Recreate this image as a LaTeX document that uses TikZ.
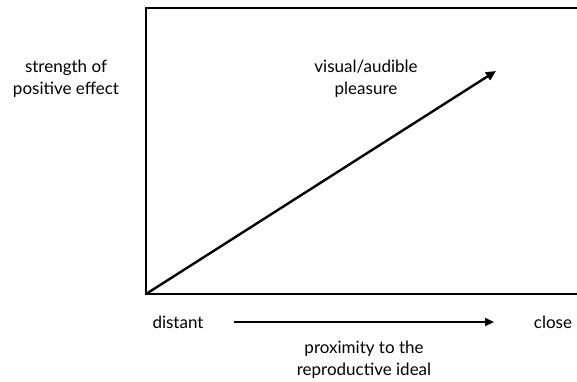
\documentclass[tikz,border=0pt]{standalone}
\usepackage{fontspec}
\setmainfont{Lato}
\usetikzlibrary{arrows.meta}
\begin{document}
\begin{tikzpicture}[x=1pt,y=-1pt,
  lbl/.style={align=center,font=\fontsize{17}{22}\selectfont,inner sep=0pt},
  arr/.style={line width=2.4pt,-{Triangle[length=10pt,width=9pt]}},
  harr/.style={line width=1.8pt,-{Triangle[length=9pt,width=8pt]}},
  frame/.style={line width=1.8pt}]
\useasboundingbox (0,0) rectangle (577,381);
\draw[frame] (146,8) rectangle (585,294);
\coordinate (o) at (146,294);
\coordinate (tip) at (496,71);
\draw[arr] (o) -- (tip);
\node[lbl] (vis) at (366,79) {visual/audible\\pleasure};
\node[lbl] (str) at (66,79) {strength of\\positive effect};
\node[lbl] (dist) at (178,322) {distant};
\node[lbl] (close) at (553,322) {close};
\coordinate (a1) at (234,322);
\coordinate (a2) at (494,322);
\draw[harr] (a1) -- (a2);
\node[lbl] (prox) at (364,360) {proximity to the\\reproductive ideal};
\end{tikzpicture}
\end{document}
